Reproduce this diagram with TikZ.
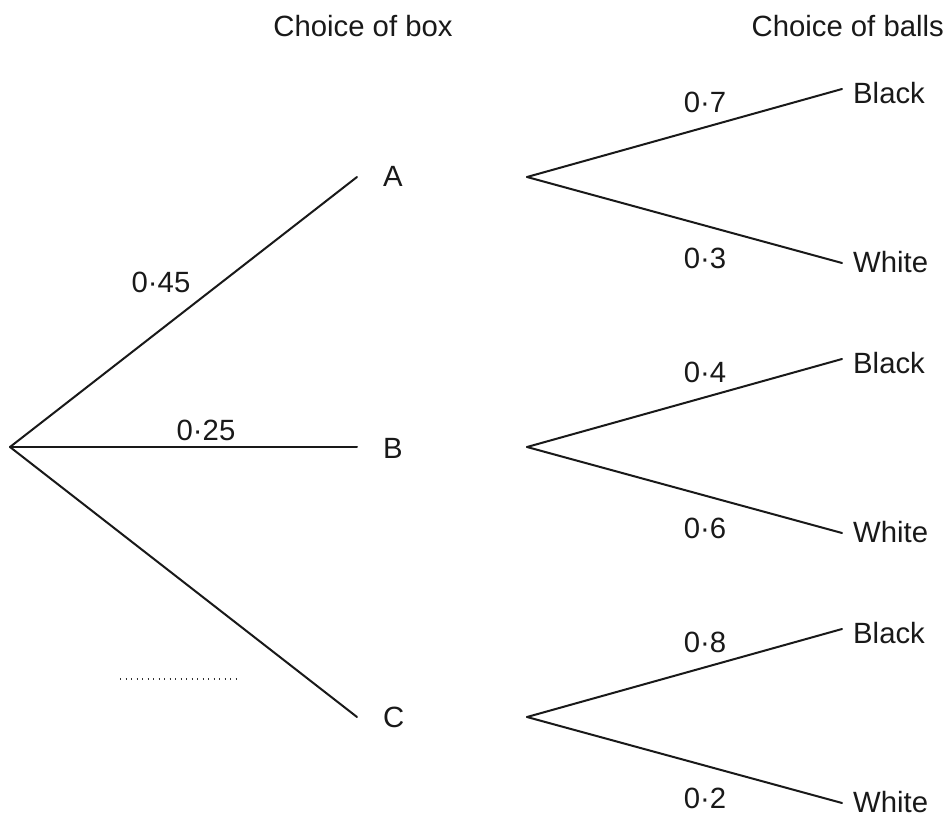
\documentclass[tikz,border=0pt]{standalone}
\usepackage{fontspec}
\setmainfont{Liberation Sans}
\begin{document}
\begin{tikzpicture}[x=1pt,y=-1pt,
  lbl/.style={font=\fontsize{29.3}{31}\selectfont, inner sep=0pt, text=black!90},
  br/.style={line width=2pt, black!90, line cap=round},
  dotline/.style={line width=1.4pt, black!80, dash pattern=on 1.4pt off 4.1pt}]
\useasboundingbox (0,0) rectangle (946,817);
% headings
\node[lbl] (h1) at (363,26) {Choice of box};
\node[lbl, anchor=east] (h2) at (944,26) {Choice of balls};
% root
\coordinate (O) at (10,447);
\coordinate (Ae) at (357,177);
\coordinate (Be) at (357,447);
\coordinate (Ce) at (357,717);
\node[lbl, anchor=west] (A) at (383,176) {A};
\node[lbl, anchor=west] (B) at (383,448) {B};
\node[lbl, anchor=west] (C) at (383,717) {C};
\draw[br] (O) -- (Ae);
\draw[br] (O) -- (Be);
\draw[br] (O) -- (Ce);
\node[lbl] (p45) at (161,282) {0·45};
\node[lbl] (p25) at (206,430) {0·25};
\coordinate (d1) at (120,679);
\coordinate (d2) at (238,679);
\draw[dotline] (d1) -- (d2);
% second level
\foreach \n/\y/\pb/\pw in {a/177/0·7/0·3, b/447/0·4/0·6, c/717/0·8/0·2}{
  \coordinate (\n r) at (527,\y);
  \coordinate (\n k) at (842,\y-88);
  \coordinate (\n w) at (842,\y+86);
  \draw[br] (\n r) -- (\n k);
  \draw[br] (\n r) -- (\n w);
  \node[lbl, anchor=west] (\n K) at (853,\y-84) {Black};
  \node[lbl, anchor=west] (\n W) at (853,\y+85) {White};
  \node[lbl] (\n pb) at (705,\y-75) {\pb};
  \node[lbl] (\n pw) at (705,\y+81) {\pw};
}
\end{tikzpicture}
\end{document}
